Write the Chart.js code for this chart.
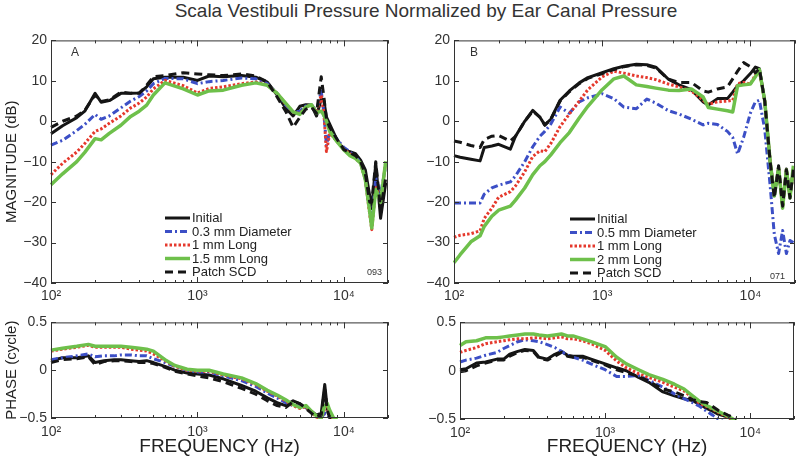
<!DOCTYPE html>
<html>
<head>
<meta charset="utf-8">
<script src="https://cdn.jsdelivr.net/npm/chart.js@4.4.1/dist/chart.umd.min.js"></script>
<style>
  html, body { margin: 0; padding: 0; background: #fff; }
  #fig { position: relative; width: 800px; height: 461px; overflow: hidden; }
  #fig canvas { position: absolute; }
  .txt { position: absolute; font-family: 'Liberation Sans', Arial, sans-serif; color: #333; white-space: nowrap; }
</style>
</head>
<body>
<div id="fig">
  <div class="txt" style="left:0; width:852px; top:0; text-align:center; font-size:19px;">Scala Vestibuli Pressure Normalized by Ear Canal Pressure</div>
  <canvas id="magA" style="left:0; top:28px;" width="400" height="280"></canvas>
  <canvas id="magB" style="left:410px; top:28px;" width="390" height="280"></canvas>
  <canvas id="phA" style="left:0; top:310px;" width="400" height="151"></canvas>
  <canvas id="phB" style="left:410px; top:310px;" width="390" height="151"></canvas>
  <div class="txt" style="left:71px; top:45px; font-size:12px;">A</div>
  <div class="txt" style="left:470px; top:45px; font-size:12px;">B</div>
  <div class="txt" style="left:367px; top:267px; font-size:9px;">093</div>
  <div class="txt" style="left:770px; top:271px; font-size:9px;">071</div>
</div>
<script>
// ---- data ----
const freqMagA = [100,120,150,170,200,220,250,300,350,400,450,500,600,800,1000,1200,1500,2000,2500,3000,3500,4000,4500,5000,5500,6000,6500,7000,7300,7600,8000,9000,10000,11000,12000,13000,14000,15000,15500,16500,17800,19300];
const initialA = [-3.1,-1.1,0.9,2.5,6.9,4.7,5.1,6.9,6.9,7.0,8.5,10.5,10.9,10.9,10.1,11.2,11.0,11.3,10.9,9.7,6.5,3.3,1.3,3.7,4.1,4.0,1.3,5.5,5.0,1.0,-0.7,-4.7,-7.1,-7.5,-8.0,-9.6,-12,-18.4,-21.6,-10.4,-24,-15.2];
const diamA = [-5.9,-4.7,-2.3,-0.8,1.7,0.5,1.3,3.3,5.0,6.1,7.5,9.3,10.6,10.5,9.3,9.8,10.1,10.7,10.5,9.3,6.9,4.0,2.3,2.5,3.8,4.1,2.5,7.5,2.0,-6.0,-2.5,-4.5,-6.5,-7.5,-8.8,-10.2,-14.4,-22,-25,-14,-18,-11];
const long1A = [-13.2,-10.4,-7.6,-5.5,-2.5,-1.9,-0.5,1.3,3.3,4.5,6.0,8.0,10.1,8.8,7.0,8.1,8.5,9.3,9.7,9.0,6.9,4.3,2.3,1.9,3.5,4.1,2.3,6.5,2.0,-7.5,-3.0,-5.0,-7.0,-8.0,-9.2,-10.4,-14.4,-23,-26.8,-16,-20,-10];
const long15A = [-15.7,-13.0,-10.0,-7.7,-4.3,-4.6,-3.0,-1.0,1.2,2.5,4.0,6.5,9.5,8.0,6.5,7.5,7.7,8.9,9.5,8.9,6.9,4.5,2.3,1.7,3.5,4.1,2.1,2.5,1.5,0,-2.5,-5.1,-7.1,-8.5,-9.2,-10.4,-14.4,-22.4,-26.4,-16.8,-20,-9.9];
const patchA = [-1.5,0,1.3,2.7,6.5,4.9,5.3,7.2,6.9,6.9,8.9,11.0,11.3,12.0,11.7,11.5,11.3,11.7,11.2,9.7,6.0,2.5,-1.5,1.0,3.0,3.5,2.0,11.0,6.0,0.5,-1.5,-4.5,-7.0,-7.8,-8.5,-10.0,-13,-20,-20,-10,-22,-14];

const freqMagB = [100,110,130,150,160,180,200,240,260,300,340,380,410,450,520,600,700,800,1000,1200,1400,1700,2000,2300,2800,3300,4000,4800,5200,6000,7000,7600,8200,9000,10000,10800,11500,12500,13600,14500,15500,16500,17500,18500,19500];
const initialB = [-8.5,-8.9,-9.4,-9.8,-6.5,-6.1,-5.7,-6.9,-3.7,0,2.7,1.0,-0.9,0.5,5.2,7.5,9.5,10.8,12.0,13.0,13.6,14.1,14.0,13.4,10.4,9.0,7.8,4.8,4.0,5.6,5.6,7.2,8.8,10.0,11.8,13.4,13.0,5.0,-10.2,-18,-11.8,-21,-11.8,-18.5,-12];
const diamB = [-20.2,-20.2,-20.2,-20.2,-18,-16.5,-15.8,-15,-13.5,-10,-6.3,-3.7,-2.5,-0.7,3.5,2.0,4.8,5.8,6.8,5.6,3.5,3.1,5.5,4.5,2.6,1.8,0.5,-0.9,-0.5,-0.8,-2.5,-4.0,-8.1,-4.0,2.0,4.8,5.2,-2,-16,-28,-32.7,-27,-32.7,-29.5,-30];
const long1B = [-28.7,-28.2,-27.8,-27.1,-24,-21.5,-18.8,-17.4,-16,-12.5,-8.7,-7.3,-7.5,-5.5,-1.3,1.8,5.0,7.8,11.0,12.4,11.9,11.2,10.8,10.3,9.2,8.5,7.5,5.2,4.2,4.8,5.0,5.2,9.3,9.6,9.2,11.5,12.4,5.0,-10,-18,-11.5,-21,-12,-18.5,-12];
const long2B = [-35,-33,-29.8,-28.3,-26,-23.5,-22,-21,-19.5,-16.5,-13.2,-11,-10,-8.3,-5.3,-2.8,0.8,3.7,7.8,10.5,11.2,9.0,8.6,8.2,7.7,7.6,8.0,6.0,3.4,3.0,2.6,2.3,8.8,9.0,9.2,11.0,12.8,5,-10,-18.5,-11.5,-21.5,-12,-19,-11];
const patchB = [-4.9,-5.2,-6.0,-6.5,-4.5,-3.7,-3.5,-4.9,-3.7,0,2.5,1.0,-1.0,0.5,5.0,7.3,9.3,10.6,11.8,12.8,13.5,14.0,13.8,13.2,10.4,9.6,9.6,7.5,7.2,8.0,8.5,10.5,12.4,14.5,13.5,12.0,13.0,5.0,-10,-19,-11,-21,-12,-19,-12];

const freqPhA = [100,120,150,180,200,230,270,300,350,400,450,500,600,700,850,1000,1200,1500,2000,2500,3000,3500,4000,4500,5000,5500,6000,6500,7000,7400,7700,8000,8500,9000];
const initialPhA = [0.1,0.13,0.13,0.15,0.08,0.1,0.11,0.11,0.1,0.09,0.1,0.08,0.04,0.0,-0.03,-0.04,-0.05,-0.09,-0.16,-0.22,-0.29,-0.34,-0.37,-0.32,-0.35,-0.39,-0.43,-0.47,-0.45,-0.15,-0.4,-0.48,-0.55,-0.6];
const diamPhA = [0.11,0.13,0.15,0.17,0.14,0.15,0.15,0.16,0.16,0.15,0.15,0.12,0.08,0.04,0.0,-0.02,-0.02,-0.06,-0.11,-0.17,-0.24,-0.29,-0.34,-0.37,-0.38,-0.39,-0.44,-0.48,-0.5,-0.45,-0.46,-0.5,-0.52,-0.55];
const long1PhA = [0.2,0.22,0.24,0.26,0.24,0.24,0.24,0.24,0.22,0.21,0.2,0.17,0.1,0.04,0.0,-0.01,-0.01,-0.05,-0.09,-0.15,-0.22,-0.27,-0.32,-0.37,-0.4,-0.38,-0.44,-0.49,-0.51,-0.4,-0.38,-0.44,-0.52,-0.55];
const long15PhA = [0.21,0.23,0.25,0.27,0.25,0.25,0.25,0.25,0.24,0.23,0.22,0.2,0.11,0.05,0.01,0.0,0.0,-0.04,-0.08,-0.14,-0.21,-0.26,-0.31,-0.36,-0.39,-0.37,-0.43,-0.48,-0.5,-0.37,-0.35,-0.42,-0.5,-0.52];
const patchPhA = [0.08,0.11,0.12,0.14,0.06,0.09,0.1,0.1,0.09,0.08,0.08,0.07,0.03,-0.01,-0.04,-0.06,-0.08,-0.12,-0.19,-0.25,-0.32,-0.37,-0.39,-0.33,-0.35,-0.4,-0.45,-0.49,-0.47,-0.2,-0.42,-0.5,-0.56,-0.6];

const freqPhB = [100,110,130,150,180,200,220,250,280,320,350,400,450,500,550,600,700,800,1000,1200,1400,1700,2000,2500,3000,3500,4000,4500,5000,5500,6000,7000,8000];
const initialPhB = [0.01,0.02,0.08,0.09,0.12,0.12,0.17,0.2,0.22,0.21,0.14,0.12,0.17,0.2,0.16,0.15,0.15,0.12,0.07,0.03,0.0,-0.07,-0.12,-0.22,-0.26,-0.29,-0.31,-0.35,-0.39,-0.42,-0.45,-0.48,-0.52];
const diamPhB = [0.09,0.11,0.13,0.16,0.19,0.23,0.26,0.3,0.32,0.31,0.3,0.27,0.24,0.2,0.16,0.14,0.11,0.07,0.01,-0.06,-0.06,-0.05,-0.1,-0.17,-0.24,-0.29,-0.33,-0.37,-0.42,-0.46,-0.5,-0.55,-0.6];
const long1PhB = [0.19,0.21,0.24,0.28,0.3,0.31,0.32,0.33,0.33,0.34,0.34,0.33,0.34,0.35,0.33,0.33,0.31,0.28,0.21,0.1,0.03,-0.03,-0.07,-0.12,-0.17,-0.21,-0.28,-0.34,-0.37,-0.4,-0.43,-0.48,-0.53];
const long2PhB = [0.26,0.3,0.31,0.34,0.34,0.35,0.36,0.37,0.38,0.38,0.37,0.36,0.37,0.38,0.36,0.36,0.33,0.3,0.25,0.14,0.07,0.01,-0.04,-0.09,-0.14,-0.19,-0.26,-0.32,-0.36,-0.39,-0.42,-0.47,-0.52];
const patchPhB = [-0.01,0.0,0.05,0.08,0.11,0.11,0.15,0.19,0.21,0.2,0.13,0.11,0.15,0.19,0.15,0.14,0.14,0.11,0.06,0.01,-0.02,-0.06,-0.11,-0.19,-0.22,-0.26,-0.3,-0.32,-0.33,-0.37,-0.41,-0.46,-0.5];

const labelsA = ['Initial', '0.3 mm Diameter', '1 mm Long', '1.5 mm Long', 'Patch SCD'];
const labelsB = ['Initial', '0.5 mm Diameter', '1 mm Long', '2 mm Long', 'Patch SCD'];

const xTickValues = [100, 1000, 10000];
const xTickLabels = ['10\u00B2', '10\u00B3', '10\u2074'];
const magTicks = [20, 10, 0, -10, -20, -30, -40];
const phaseTicks = [0.5, 0, -0.5];
const phaseTickLabels = ['0.5', '0', '\u22120.5'];

// ---- styles ----
const lineStyles = [
  { borderColor: '#151515', borderWidth: 3, borderDash: [], order: 5 },
  { borderColor: '#3c4fc6', borderWidth: 3, borderDash: [7, 3, 2, 3], order: 4 },
  { borderColor: '#e5392d', borderWidth: 3, borderDash: [2.5, 2], order: 3 },
  { borderColor: '#6ec04b', borderWidth: 3.5, borderDash: [], order: 2 },
  { borderColor: '#151515', borderWidth: 3, borderDash: [8, 5], order: 1 }
];

// minor + major tick marks on the log axis
const xMarks = [];
[100, 1000, 10000].forEach(d => { for (let k = 1; k <= 9; k++) if (d * k <= 20000) xMarks.push(d * k); });
xMarks.push(20000);

const tickFont = { family: "'Liberation Sans', Arial, sans-serif", size: 14 };

// frame with inward ticks, matlab style
const frameTicks = {
  id: 'frameTicks',
  afterDatasetsDraw(chart) {
    const { ctx, chartArea: a, scales } = chart;
    ctx.save();
    ctx.strokeStyle = '#333';
    ctx.lineWidth = 1;
    ctx.setLineDash([]);
    ctx.strokeRect(a.left + 0.5, a.top + 0.5, a.right - a.left - 1, a.bottom - a.top - 1);
    ctx.beginPath();
    scales.x.ticks.forEach(t => {
      const px = Math.round(scales.x.getPixelForValue(t.value)) + 0.5;
      const len = xTickValues.includes(t.value) ? 6 : 3;
      ctx.moveTo(px, a.bottom); ctx.lineTo(px, a.bottom - len);
      ctx.moveTo(px, a.top); ctx.lineTo(px, a.top + len);
    });
    scales.y.ticks.forEach(t => {
      const py = Math.round(scales.y.getPixelForValue(t.value)) + 0.5;
      ctx.moveTo(a.left, py); ctx.lineTo(a.left + 5, py);
      ctx.moveTo(a.right, py); ctx.lineTo(a.right - 5, py);
    });
    ctx.stroke();
    ctx.restore();
  }
};

// legend drawn inside the axes box
const innerLegend = {
  id: 'innerLegend',
  afterDraw(chart, args, o) {
    if (!o || o.x == null) return;
    const ctx = chart.ctx;
    chart.data.datasets.forEach((ds, i) => {
      const yy = o.y + i * o.dy;
      ctx.save();
      ctx.strokeStyle = ds.borderColor;
      ctx.lineWidth = ds.borderWidth;
      ctx.setLineDash(ds.borderDash || []);
      ctx.beginPath();
      ctx.moveTo(o.x, yy);
      ctx.lineTo(o.x + 25, yy);
      ctx.stroke();
      ctx.setLineDash([]);
      ctx.fillStyle = '#222';
      ctx.font = "13px 'Liberation Sans', Arial, sans-serif";
      ctx.textBaseline = 'middle';
      ctx.fillText(ds.label, o.x + 27, yy + 0.5);
      ctx.restore();
    });
  }
};

function buildPanel(id, freqs, series, labels, p) {
  const datasets = series.map((vals, i) => Object.assign({
    label: labels[i],
    data: freqs.map((f, j) => ({ x: f, y: vals[j] })),
    pointRadius: 0,
    tension: 0,
    fill: false,
    clip: 1,
    borderJoinStyle: 'round'
  }, lineStyles[i]));

  return new Chart(document.getElementById(id), {
    type: 'line',
    data: { datasets: datasets },
    plugins: [frameTicks, innerLegend],
    options: {
      responsive: false,
      animation: false,
      events: [],
      layout: { padding: { top: p.top, right: p.right, left: 0, bottom: 0 }, autoPadding: false },
      plugins: {
        legend: { display: false },
        tooltip: { enabled: false },
        innerLegend: p.legend || false
      },
      scales: {
        x: {
          type: 'logarithmic',
          min: 100,
          max: 20000,
          grid: { display: false, drawTicks: false },
          border: { display: false },
          afterBuildTicks: s => { s.ticks = xMarks.map(v => ({ value: v })); },
          afterFit: s => { s.height = p.xh; },
          ticks: {
            autoSkip: false,
            maxRotation: 0,
            padding: p.xpad,
            color: '#333',
            font: tickFont,
            callback: v => { const k = xTickValues.indexOf(v); return k >= 0 ? xTickLabels[k] : ''; }
          },
          title: p.xTitle ? {
            display: true,
            text: p.xTitle,
            color: '#222',
            font: { family: "'Liberation Sans', Arial, sans-serif", size: 19 },
            padding: { top: 0, bottom: 3 }
          } : { display: false }
        },
        y: {
          type: 'linear',
          min: p.yMin,
          max: p.yMax,
          grid: { display: false, drawTicks: false },
          border: { display: false },
          afterBuildTicks: s => { s.ticks = p.yTicks.map(v => ({ value: v })); },
          afterFit: s => { s.width = p.yw; },
          ticks: {
            padding: 4,
            color: '#333',
            font: tickFont,
            callback: v => { const k = p.yTicks.indexOf(v); return p.yLabels[k]; }
          },
          title: p.yTitle ? {
            display: true,
            text: p.yTitle,
            color: '#222',
            font: { family: "'Liberation Sans', Arial, sans-serif", size: 15 },
            padding: { top: 3, bottom: 0 }
          } : { display: false }
        }
      }
    }
  });
}

const magLabels = magTicks.map(v => v < 0 ? '\u2212' + Math.abs(v) : String(v));

buildPanel('magA', freqMagA, [initialA, diamA, long1A, long15A, patchA], labelsA, {
  top: 6, right: 12, yw: 51, xh: 25, xpad: 5,
  yMin: -40, yMax: 20, yTicks: magTicks, yLabels: magLabels,
  yTitle: 'MAGNITUDE (dB)',
  legend: { x: 165, y: 190, dy: 13.5 }
});

buildPanel('magB', freqMagB, [initialB, diamB, long1B, long2B, patchB], labelsB, {
  top: 7, right: 4, yw: 44, xh: 25, xpad: 5,
  yMin: -40, yMax: 20, yTicks: magTicks, yLabels: magLabels,
  legend: { x: 160, y: 191, dy: 13.5 }
});

buildPanel('phA', freqPhA, [initialPhA, diamPhA, long1PhA, long15PhA, patchPhA], labelsA, {
  top: 8, right: 12, yw: 51, xh: 43, xpad: 6,
  yMin: -0.5, yMax: 0.5, yTicks: phaseTicks, yLabels: phaseTickLabels,
  yTitle: 'PHASE (cycle)', xTitle: 'FREQUENCY (Hz)'
});

buildPanel('phB', freqPhB, [initialPhB, diamPhB, long1PhB, long2PhB, patchPhB], labelsB, {
  top: 11, right: 3, yw: 50, xh: 42, xpad: 6,
  yMin: -0.5, yMax: 0.5, yTicks: phaseTicks, yLabels: phaseTickLabels,
  xTitle: 'FREQUENCY (Hz)'
});
</script>
</body>
</html>
